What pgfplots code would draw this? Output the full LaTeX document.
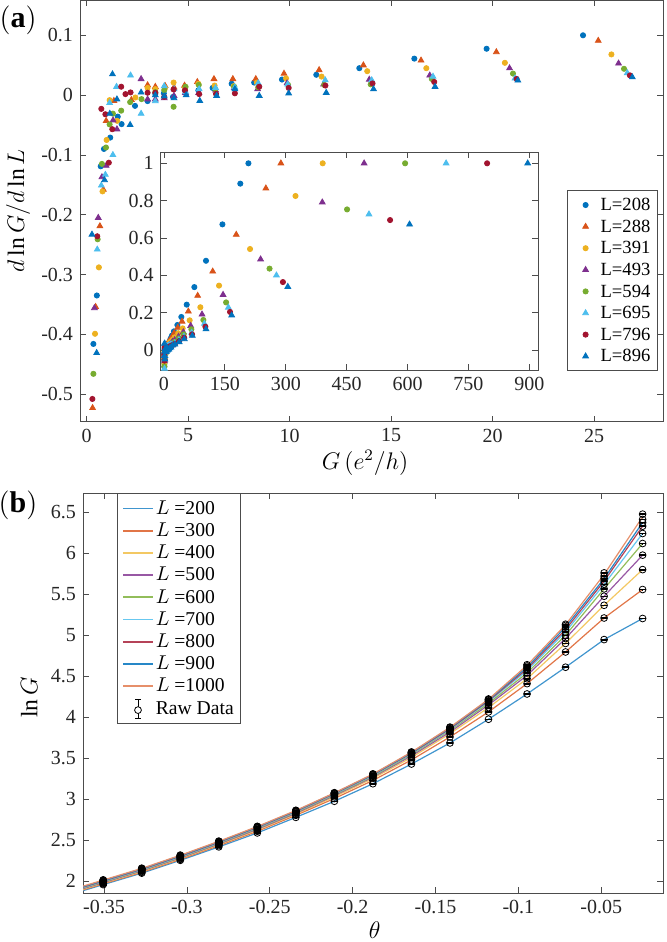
\documentclass[border=0pt]{standalone}
\usepackage{fontspec}
\setmainfont{Liberation Serif}
\usepackage{pgfplots}
\pgfplotsset{compat=1.18}
\usepackage{pgfplotstable}

\definecolor{mb}{HTML}{0072BD}
\definecolor{mo}{HTML}{D95319}
\definecolor{my}{HTML}{EDB120}
\definecolor{mp}{HTML}{7E2F8E}
\definecolor{mg}{HTML}{77AC30}
\definecolor{mc}{HTML}{4DBEEE}
\definecolor{mr}{HTML}{A2142F}
\colorlet{axc}{black!70}

% ---------- panel (a) data: G, dlnG/dlnL ----------
\pgfplotstableread{
G v
24.45 0.100
19.70 0.0775
16.14 0.061
13.43 0.045
11.31 0.034
9.62 0.026
8.25 0.021
7.14 0.019
6.20 0.012
5.50 0.008
4.85 0.007
4.25 -0.003
3.80 0.003
3.38 0.002
3.00 -0.010
2.38 -0.018
1.72 -0.0485
1.53 -0.036
1.16 -0.071
0.85 -0.090
0.69 -0.119
0.50 -0.335
0.33 -0.416
}\tA
\pgfplotstableread{
G v
25.20 0.091
20.18 0.072
16.47 0.058
13.63 0.050
11.45 0.042
9.72 0.036
8.33 0.027
7.20 0.027
6.27 0.027
5.45 0.022
4.82 0.016
4.30 0.013
3.86 0.0156
3.38 0.014
3.00 0.0167
2.20 -0.008
1.34 -0.0095
0.96 -0.043
0.82 -0.158
0.65 -0.219
0.44 -0.354
0.29 -0.523
}\tB
\pgfplotstableread{
G v
25.85 0.068
20.60 0.054
16.73 0.045
13.82 0.040
11.57 0.031
9.82 0.028
8.38 0.021
7.24 0.015
6.30 0.016
5.50 0.019
4.85 0.012
4.28 0.021
3.86 0.012
3.38 0.010
3.00 0.012
2.40 -0.004
1.50 -0.043
1.13 -0.0084
0.98 -0.075
0.78 -0.161
0.60 -0.288
0.41 -0.399
}\tC
\pgfplotstableread{
G v
26.20 0.053
20.83 0.045
16.90 0.033
13.92 0.026
11.67 0.018
9.87 0.020
8.42 0.010
7.27 0.012
6.35 0.008
5.52 0.004
4.86 0.004
4.30 -0.001
3.82 -0.005
3.38 -0.007
3.00 -0.007
2.68 0.027
1.49 -0.057
1.30 -0.042
0.96 -0.118
0.75 -0.137
0.57 -0.205
0.38 -0.356
}\tD
\pgfplotstableread{
G v
26.47 0.044
21.00 0.036
17.00 0.027
13.99 0.018
11.70 0.017
9.92 0.017
8.45 0.013
7.27 0.014
6.33 0.010
5.52 0.017
4.87 0.014
4.28 -0.0195
3.82 0.0084
3.38 0.005
2.70 -0.0067
2.14 -0.0117
1.70 -0.026
1.29 -0.031
1.13 -0.049
0.95 -0.0876
0.75 -0.115
0.54 -0.241
0.33 -0.466
}\tE
\pgfplotstableread{
G v
26.63 0.037
21.10 0.028
17.06 0.031
14.04 0.025
11.75 0.025
9.90 0.018
8.45 0.020
7.30 0.013
6.35 0.012
5.54 0.010
4.88 0.005
4.30 0.010
3.82 0.015
3.38 -0.010
2.68 -0.031
2.16 0.033
1.47 0.014
1.13 -0.013
1.29 -0.100
0.92 -0.133
0.72 -0.151
0.52 -0.258
}\tF
\pgfplotstableread{
G v
26.76 0.033
21.18 0.027
17.12 0.022
14.08 0.0195
11.76 0.016
9.95 0.012
8.50 0.014
7.30 0.003
6.37 0.002
5.54 0.0017
4.84 0.008
4.28 0.0095
3.82 -0.003
3.38 0.004
3.00 0.004
2.16 0.0045
1.91 0.0017
1.70 0.014
1.26 -0.057
1.09 -0.113
0.92 -0.032
0.72 -0.023
0.52 -0.236
0.28 -0.508
}\tG
\pgfplotstableread{
G v
26.88 0.030
21.24 0.0246
17.16 0.014
14.13 0.010
11.80 0.004
9.95 0.003
8.50 -0.001
7.30 0.010
6.40 -0.001
5.57 -0.0095
4.90 0.000
4.30 -0.005
3.82 -0.002
3.38 0.000
2.68 0.0045
2.14 -0.0497
1.49 -0.007
1.27 0.035
1.14 -0.031
0.88 -0.142
0.49 -0.431
0.26 -0.233
}\tH
% ---------- inset extra points (large G) ----------
\pgfplotstableread{
G v
208 1
188 0.891
144 0.673
103.5 0.478
74.8 0.337
56 0.243
42.7 0.177
33 0.134
}\eA
\pgfplotstableread{
G v
288 1
251 0.866
178 0.618
120 0.421
83 0.291
60 0.207
44.4 0.153
34 0.120
}\eB
\pgfplotstableread{
G v
391 1
324 0.825
212 0.541
135.6 0.345
89.6 0.229
63.3 0.159
46 0.116
35 0.090
}\eC
\pgfplotstableread{
G v
493 1
390 0.791
238 0.486
145.5 0.296
93.7 0.191
65.7 0.130
47.7 0.096
35.8 0.072
}\eD
\pgfplotstableread{
G v
594 1
451 0.753
260 0.436
153 0.255
97 0.161
67.4 0.111
48.5 0.084
36.3 0.062
}\eE
\pgfplotstableread{
G v
695 1
505 0.727
277 0.400
158.6 0.228
99.5 0.141
68.2 0.093
49.2 0.072
36.8 0.054
}\eF
\pgfplotstableread{
G v
796 1
557 0.696
293 0.364
162.7 0.204
102 0.125
69 0.084
49.6 0.066
37.1 0.048
}\eG
\pgfplotstableread{
G v
896 1
605 0.673
305 0.339
166.8 0.186
103.5 0.112
69.8 0.077
50 0.059
37.4 0.043
}\eH
% ---------- panel (b): fitted lines ----------
\pgfplotstableread{
t l0 l1 l2 l3 l4 l5 l6 l7 l8
-0.3627 1.886 1.896 1.904 1.911 1.918 1.924 1.929 1.934 1.941
-0.35050 1.960 1.970 1.978 1.985 1.992 1.998 2.003 2.008 2.0155
-0.32725 2.100 2.110 2.120 2.128 2.135 2.141 2.147 2.152 2.158
-0.30400 2.256 2.268 2.278 2.286 2.293 2.299 2.305 2.310 2.3175
-0.28075 2.420 2.435 2.447 2.456 2.464 2.470 2.476 2.481 2.488
-0.25750 2.590 2.610 2.625 2.635 2.645 2.652 2.658 2.663 2.6685
-0.23425 2.780 2.805 2.820 2.830 2.840 2.847 2.853 2.858 2.864
-0.21100 2.976 3.010 3.030 3.045 3.055 3.063 3.069 3.074 3.0785
-0.18775 3.190 3.230 3.255 3.270 3.280 3.290 3.297 3.302 3.308
-0.16450 3.430 3.480 3.510 3.530 3.545 3.555 3.562 3.568 3.575
-0.14125 3.687 3.760 3.800 3.820 3.840 3.850 3.860 3.870 3.8775
-0.11800 3.976 4.065 4.118 4.150 4.170 4.190 4.200 4.210 4.219
-0.09475 4.284 4.410 4.470 4.510 4.540 4.570 4.590 4.610 4.6325
-0.07150 4.610 4.796 4.900 4.960 5.000 5.040 5.070 5.100 5.127
-0.04825 4.947 5.210 5.365 5.475 5.565 5.620 5.660 5.690 5.740
-0.02500 5.204 5.557 5.800 5.976 6.118 6.240 6.329 6.374 6.4435
}\fitlines
% ---------- panel (b): raw data ----------
\pgfplotstableread{
t r0 r1 r2 r3 r4 r5 r6 r7 r8 r9
-0.35050 1.960 1.970 1.978 1.985 1.992 1.998 2.003 2.008 2.013 2.018
-0.32725 2.100 2.110 2.120 2.128 2.135 2.141 2.147 2.152 2.156 2.160
-0.30400 2.256 2.268 2.278 2.286 2.293 2.299 2.305 2.310 2.315 2.320
-0.28075 2.420 2.435 2.447 2.456 2.464 2.470 2.476 2.481 2.486 2.490
-0.25750 2.590 2.610 2.625 2.635 2.645 2.652 2.658 2.663 2.667 2.670
-0.23425 2.780 2.805 2.820 2.830 2.840 2.847 2.853 2.858 2.862 2.866
-0.21100 2.976 3.010 3.030 3.045 3.055 3.063 3.069 3.074 3.077 3.080
-0.18775 3.190 3.230 3.255 3.270 3.280 3.290 3.297 3.302 3.306 3.310
-0.16450 3.430 3.480 3.510 3.530 3.545 3.555 3.562 3.568 3.573 3.577
-0.14125 3.687 3.760 3.800 3.820 3.840 3.850 3.860 3.870 3.875 3.880
-0.11800 3.976 4.065 4.118 4.150 4.170 4.190 4.200 4.210 4.215 4.223
-0.09475 4.284 4.410 4.470 4.510 4.540 4.570 4.590 4.610 4.625 4.640
-0.07150 4.610 4.796 4.900 4.960 5.000 5.040 5.070 5.100 5.120 5.134
-0.04825 4.947 5.210 5.365 5.475 5.565 5.620 5.660 5.690 5.720 5.760
-0.02500 5.204 5.557 5.800 5.976 6.118 6.240 6.329 6.374 6.411 6.476
}\rawdat

\pgfplotsset{
  mat/.style={
    scale only axis,
    axis line style={draw=axc, line width=0.4pt},
    every tick/.style={draw=axc, line width=0.4pt},
    major tick length=3pt,
    tick align=inside,
    ticklabel style={font=\fontsize{10}{12}\selectfont, text=black!85},
    /pgf/number format/assume math mode=true,
    /pgf/number format/fixed,
    /pgf/number format/precision=2,
    scaled ticks=false,
    label style={font=\fontsize{11.8}{14}\selectfont},
  },
  mkleg/.style={legend image code/.code={\path[draw=none, fill=none] (0pt,-1pt) rectangle (13pt,1pt); \draw[##1] plot coordinates {(6.5pt,0pt)};}},
  cir/.style={only marks, mark=*, mark size=1.3pt, mark options={draw=#1, fill=#1}, mkleg},
  tri/.style={only marks, mark=triangle*, mark size=1.65pt, mark options={draw=#1, fill=#1}, mkleg},
  rawstyle/.style={only marks, mark=o, mark size=1.7pt, black, line width=0.4pt,
    error bars/.cd, y dir=both, y fixed=0.004,
    error bar style={black, line width=0.4pt},
    error mark options={black, mark size=1.7pt, line width=0.4pt, rotate=90}},
}

\begin{document}
\begin{tikzpicture}
\useasboundingbox (0pt,0pt) rectangle (333pt,-471pt);

% ================= panel (a) =================
\begin{axis}[mat,
  at={(40pt,0pt)}, anchor=north west,
  width=291.5pt, height=210.85pt,
  xmin=-0.33, xmax=28.39, ymin=-0.546, ymax=0.159,
  xtick={0,5,10,15,20,25},
  ytick={-0.5,-0.4,-0.3,-0.2,-0.1,0,0.1},
  xlabel={$G\,(e^2/h)$},
  xlabel style={at={(axis description cs:0.489,-0.098)}, anchor=center},
  ylabel={$d\ln G/d\ln L$},
  ylabel style={at={(axis description cs:-0.106,0.5)}, anchor=center},
  legend style={at={(0.991,0.5494)}, anchor=north east, draw=axc, line width=0.4pt,
    font=\fontsize{9.3}{11}\selectfont, inner sep=2.5pt, row sep=1.2pt,
    nodes={inner sep=1pt, text height=6.6pt, text depth=1pt}},
  legend cell align=left,
]
\addplot[cir=mb] table {\tA}; \addlegendentry{L=208}
\addplot[tri=mo] table {\tB}; \addlegendentry{L=288}
\addplot[cir=my] table {\tC}; \addlegendentry{L=391}
\addplot[tri=mp] table {\tD}; \addlegendentry{L=493}
\addplot[cir=mg] table {\tE}; \addlegendentry{L=594}
\addplot[tri=mc] table {\tF}; \addlegendentry{L=695}
\addplot[cir=mr] table {\tG}; \addlegendentry{L=796}
\addplot[tri=mb] table {\tH}; \addlegendentry{L=896}
\end{axis}

% ================= inset =================
\begin{axis}[mat,
  at={(80.35pt,-76pt)}, anchor=north west,
  width=188.65pt, height=109pt,
  axis background/.style={fill=white},
  xmin=-8.1, xmax=921.4, ymin=-0.107, ymax=1.0605,
  xtick={0,150,300,450,600,750,900},
  ytick={0,0.2,0.4,0.6,0.8,1},
]
\addplot[cir=mb] table {\tA}; \addplot[cir=mb] table {\eA};
\addplot[tri=mo] table {\tB}; \addplot[tri=mo] table {\eB};
\addplot[cir=my] table {\tC}; \addplot[cir=my] table {\eC};
\addplot[tri=mp] table {\tD}; \addplot[tri=mp] table {\eD};
\addplot[cir=mg] table {\tE}; \addplot[cir=mg] table {\eE};
\addplot[tri=mc] table {\tF}; \addplot[tri=mc] table {\eF};
\addplot[cir=mr] table {\tG}; \addplot[cir=mr] table {\eG};
\addplot[tri=mb] table {\tH}; \addplot[tri=mb] table {\eH};
\end{axis}

% ================= panel (b) =================
\begin{axis}[mat,
  at={(41.5pt,-246.65pt)}, anchor=north west,
  width=290pt, height=200pt,
  xmin=-0.3627, xmax=-0.0127, ymin=1.854, ymax=6.73,
  xtick={-0.35,-0.3,-0.25,-0.2,-0.15,-0.1,-0.05},
  ytick={2,2.5,3,3.5,4,4.5,5,5.5,6,6.5},
  xlabel={$\theta$},
  xlabel style={at={(axis description cs:0.503,-0.092)}, anchor=center},
  ylabel={$\ln G$},
  ylabel style={at={(axis description cs:-0.093,0.49)}, anchor=center},
  legend style={at={(0.0581,1)}, anchor=north west, draw=axc, line width=0.4pt,
    font=\fontsize{9.8}{11}\selectfont, inner sep=2.5pt, row sep=1.3pt,
    nodes={inner sep=1pt, text height=6.8pt, text depth=1pt}},
  legend cell align=left,
  legend image code/.code={\draw[#1, line width=0.9pt] (0pt,0pt) -- (15pt,0pt);},
]
\addplot[mb!75!white, line width=0.6pt] table[x=t, y=l0] {\fitlines}; \addlegendentry{$L$ =200}
\addplot[mo!80!white, line width=0.6pt] table[x=t, y=l1] {\fitlines}; \addlegendentry{$L$ =300}
\addplot[my!70!white, line width=0.6pt] table[x=t, y=l2] {\fitlines}; \addlegendentry{$L$ =400}
\addplot[mp!80!white, line width=0.6pt] table[x=t, y=l3] {\fitlines}; \addlegendentry{$L$ =500}
\addplot[mg!80!white, line width=0.6pt] table[x=t, y=l4] {\fitlines}; \addlegendentry{$L$ =600}
\addplot[mc!85!white, line width=0.6pt] table[x=t, y=l5] {\fitlines}; \addlegendentry{$L$ =700}
\addplot[mr!80!white, line width=0.6pt] table[x=t, y=l6] {\fitlines}; \addlegendentry{$L$ =800}
\addplot[mb!85!white, line width=0.6pt] table[x=t, y=l7] {\fitlines}; \addlegendentry{$L$ =900}
\addplot[mo!65!white, line width=0.6pt] table[x=t, y=l8] {\fitlines}; \addlegendentry{$L$ =1000}
\addplot[legend image code/.code={
  \draw[black, line width=0.4pt] (7.5pt,-4.8pt) -- (7.5pt,4.8pt);
  \draw[black, line width=0.4pt] (6pt,-4.8pt) -- (9pt,-4.8pt) (6pt,4.8pt) -- (9pt,4.8pt);
  \draw[black, fill=white, line width=0.4pt] (7.5pt,-0.8pt) circle (1.7pt);}, rawstyle]
  table[x=t, y=r0] {\rawdat};
\addlegendentry{Raw Data}
\pgfplotsinvokeforeach{r1,r2,r3,r4,r5,r6,r7,r8,r9}{
\addplot[forget plot, rawstyle] table[x=t, y=#1] {\rawdat};
}
\end{axis}

\node[font=\fontsize{15}{17}\selectfont] at (9pt,-10pt) {$\mathbf{(a)}$};
\node[font=\fontsize{15}{17}\selectfont] at (9pt,-252.5pt) {$\mathbf{(b)}$};
\end{tikzpicture}
\end{document}
